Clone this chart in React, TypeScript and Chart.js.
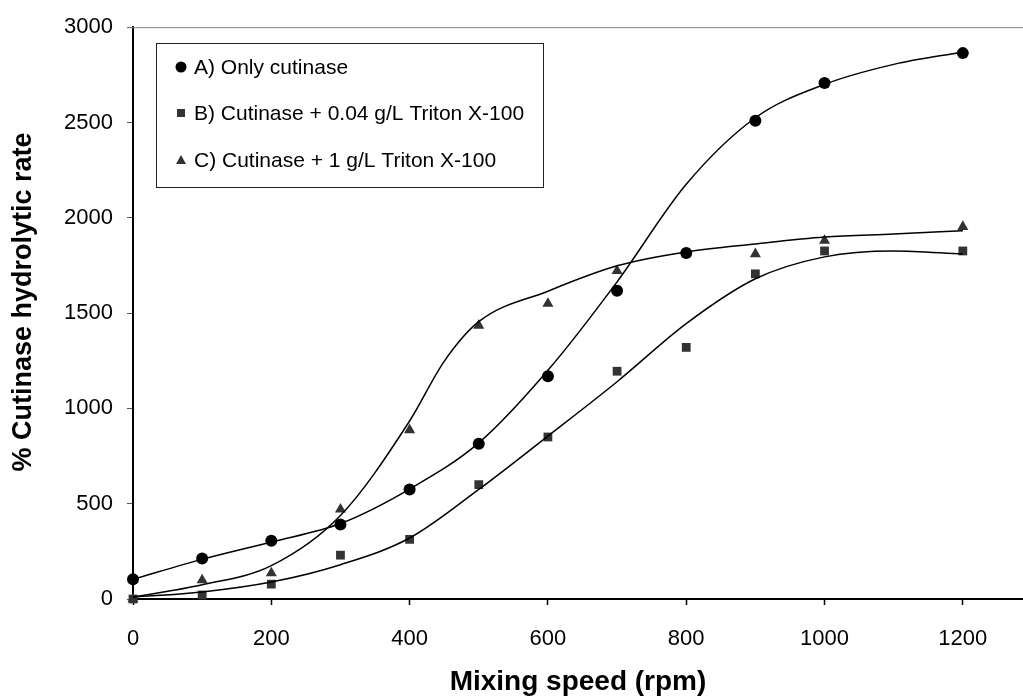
import React, { useEffect, useRef } from "react";
import { Chart, registerables } from "chart.js";

Chart.register(...registerables);

// Measured points
const speeds = [0, 100, 200, 300, 400, 500, 600, 700, 800, 900, 1000, 1200];
const onlyCutinase = [104, 212, 306, 391, 574, 814, 1169, 1617, 1815, 2509, 2707, 2864];
const triton004 = [0, 21, 78, 230, 313, 600, 850, 1195, 1320, 1706, 1826, 1826];
const triton1 = [0, 99, 136, 470, 887, 1435, 1550, 1722, 1815, 1810, 1880, 1953];

// Fitted curves
const fitSpeedsA = [0, 100, 200, 300, 400, 500, 600, 700, 800, 900, 1000, 1100, 1200];
const fitA = [104, 208, 299, 396, 577, 819, 1200, 1664, 2176, 2525, 2700, 2805, 2870];
const fitSpeedsB = [0, 100, 200, 300, 400, 500, 600, 700, 800, 900, 1000, 1100, 1200];
const fitB = [10, 37, 89, 180, 320, 575, 855, 1140, 1445, 1680, 1795, 1826, 1810];
const fitSpeedsC = [0, 100, 200, 300, 400, 450, 500, 600, 700, 800, 900, 1000, 1100, 1200];
const fitC = [10, 75, 175, 438, 934, 1247, 1455, 1615, 1748, 1821, 1863, 1899, 1915, 1932];

const xTicks = [0, 200, 400, 600, 800, 1000, 1200];
const legendLabels = [
  "A) Only cutinase",
  "B) Cutinase + 0.04 g/L Triton X-100",
  "C) Cutinase + 1 g/L Triton X-100",
];
const xTitle = "Mixing speed (rpm)";
const yTitle = "% Cutinase hydrolytic rate";

const FONT = "'Liberation Sans', Arial, sans-serif";
const GRAY = "#333333";

const pts = (xs: number[], ys: number[]) => xs.map((x, i) => ({ x, y: ys[i] }));

const topLinePlugin = {
  id: "topLine",
  afterDraw(chart: any) {
    const { ctx, chartArea } = chart;
    ctx.save();
    ctx.strokeStyle = "#808080";
    ctx.lineWidth = 1;
    ctx.beginPath();
    ctx.moveTo(chartArea.left - 6, chartArea.top + 0.5);
    ctx.lineTo(chart.width, chartArea.top + 0.5);
    ctx.stroke();
    // y-axis title
    ctx.fillStyle = "#000";
    ctx.font = `bold 27px ${FONT}`;
    ctx.textAlign = "center";
    ctx.textBaseline = "middle";
    ctx.translate(24, 302);
    ctx.rotate(-Math.PI / 2);
    ctx.fillText(yTitle, 0, 0);
    ctx.restore();
  },
};

const legendPlugin = {
  id: "boxLegend",
  afterDraw(chart: any) {
    const { ctx } = chart;
    ctx.save();
    ctx.fillStyle = "#fff";
    ctx.fillRect(156, 43, 387, 144);
    ctx.strokeStyle = "#222";
    ctx.lineWidth = 1;
    ctx.strokeRect(156.5, 43.5, 387, 144);
    const ys = [67, 113, 160];
    const mx = 181;
    ctx.fillStyle = "#000";
    ctx.beginPath();
    ctx.arc(mx, ys[0], 5.5, 0, Math.PI * 2);
    ctx.fill();
    ctx.fillStyle = GRAY;
    ctx.fillRect(mx - 4, ys[1] - 4, 8, 8);
    ctx.beginPath();
    ctx.moveTo(mx, ys[2] - 5);
    ctx.lineTo(mx + 5, ys[2] + 4);
    ctx.lineTo(mx - 5, ys[2] + 4);
    ctx.closePath();
    ctx.fill();
    ctx.fillStyle = "#000";
    ctx.font = `21px ${FONT}`;
    ctx.textBaseline = "middle";
    ctx.textAlign = "left";
    legendLabels.forEach((t, i) => ctx.fillText(t, 194, ys[i] + 1));
    ctx.restore();
  },
};

export default function App() {
  const ref = useRef<HTMLCanvasElement | null>(null);

  useEffect(() => {
    document.body.style.margin = "0";
    if (!ref.current) return;
    const lineDs = (data: any[]) => ({
      data,
      showLine: true,
      borderColor: "#000",
      borderWidth: 1.5,
      pointRadius: 0,
      cubicInterpolationMode: "monotone" as const,
      fill: false,
    });
    const chart = new Chart(ref.current, {
      type: "scatter",
      data: {
        datasets: [
          lineDs(pts(fitSpeedsA, fitA)),
          lineDs(pts(fitSpeedsB, fitB)),
          lineDs(pts(fitSpeedsC, fitC)),
          {
            label: legendLabels[0],
            data: pts(speeds, onlyCutinase),
            pointStyle: "circle",
            pointRadius: 6,
            backgroundColor: "#000",
            borderColor: "#000",
            borderWidth: 0,
            clip: false,
          },
          {
            label: legendLabels[1],
            data: pts(speeds, triton004),
            pointStyle: "rect",
            pointRadius: 6.2,
            backgroundColor: GRAY,
            borderColor: GRAY,
            borderWidth: 0,
            clip: false,
          },
          {
            label: legendLabels[2],
            data: pts(speeds, triton1),
            pointStyle: "triangle",
            pointRadius: 6.4,
            backgroundColor: GRAY,
            borderColor: GRAY,
            borderWidth: 0,
            clip: false,
          },
        ],
      },
      options: {
        responsive: false,
        animation: false,
        layout: { autoPadding: false, padding: { top: 24, right: 0, left: 0, bottom: 0 } },
        plugins: { legend: { display: false }, tooltip: { enabled: false } },
        scales: {
          x: {
            type: "linear",
            min: 0,
            max: 1287,
            afterBuildTicks: (s: any) => {
              s.ticks = xTicks.map((v) => ({ value: v }));
            },
            afterFit: (s: any) => {
              s.height = 97;
              s.paddingRight = 0;
              s.paddingLeft = 0;
            },
            ticks: {
              color: "#000",
              font: { family: FONT, size: 22 },
              padding: 21,
              maxRotation: 0,
              callback: (v: any) => String(v),
            },
            grid: {
              display: true,
              drawOnChartArea: false,
              drawTicks: true,
              tickLength: 6,
              tickColor: "#000",
              tickWidth: 1.5,
            },
            border: { display: true, color: "#000", width: 2 },
            title: {
              display: true,
              text: xTitle,
              color: "#000",
              font: { family: FONT, size: 28, weight: "bold", lineHeight: 1 },
              padding: { top: 0, bottom: 0 },
            },
          },
          y: {
            type: "linear",
            min: 0,
            max: 3000,
            afterFit: (s: any) => {
              s.width = 133;
            },
            ticks: {
              stepSize: 500,
              color: "#000",
              font: { family: FONT, size: 22 },
              padding: 14,
              callback: (v: any) => String(v),
            },
            grid: {
              display: true,
              drawOnChartArea: false,
              drawTicks: true,
              tickLength: 6,
              tickColor: "#555",
              tickWidth: 1,
            },
            border: { display: true, color: "#000", width: 2 },
          },
        },
      },
      plugins: [topLinePlugin, legendPlugin],
    });
    return () => chart.destroy();
  }, []);

  return (
    <div style={{ width: 1023, height: 696, background: "#fff" }}>
      <canvas ref={ref} width={1023} height={696} />
    </div>
  );
}
